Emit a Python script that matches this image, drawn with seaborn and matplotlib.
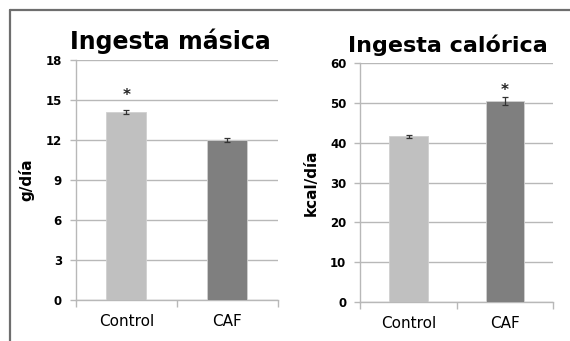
import matplotlib
matplotlib.use("Agg")
import matplotlib.pyplot as plt
from matplotlib.lines import Line2D
import seaborn as sns
import pandas as pd

groups = ["Control", "CAF"]
mass_intake = [14.1, 12.0]
mass_err = [0.12, 0.18]
cal_intake = [41.6, 50.5]
cal_err = [0.3, 1.0]
mass_sig = [True, False]
cal_sig = [False, True]
bar_colors = ["#c0c0c0", "#7f7f7f"]

sns.set_theme(style="white")
plt.rcParams["font.family"] = ["DejaVu Sans"]
plt.rcParams["text.color"] = "black"
plt.rcParams["axes.labelcolor"] = "black"
plt.rcParams["xtick.color"] = "black"
plt.rcParams["ytick.color"] = "black"

fig = plt.figure(figsize=(5.7, 3.41), dpi=100)
ax1 = fig.add_axes([0.133, 0.120, 0.354, 0.704])
ax2 = fig.add_axes([0.632, 0.114, 0.339, 0.701])

grid_c = "#b8b8b8"


def panel(ax, values, errs, sig, title, ylabel, ymax, step, star_off,
          title_size, title_x):
    df = pd.DataFrame({"grupo": groups, "valor": values})
    sns.barplot(data=df, x="grupo", y="valor", hue="grupo", palette=bar_colors,
                order=groups, errorbar=None, width=0.4, legend=False,
                edgecolor="#d0d0d0", linewidth=0.6, ax=ax, zorder=3)
    ax.errorbar(range(len(groups)), values, yerr=errs, fmt="none",
                ecolor="#333333", elinewidth=0.9, capsize=2.2, capthick=0.9,
                zorder=4)
    for i, s in enumerate(sig):
        if s:
            ax.text(i, values[i] + errs[i] + star_off, "*", ha="center",
                    va="center", fontsize=11, fontweight="bold", color="#222222")
    ax.set_ylim(0, ymax)
    ax.set_xlim(-0.5, 1.5)
    ax.set_yticks(range(0, ymax + 1, step))
    ax.yaxis.grid(True, color=grid_c, linewidth=1.0, zorder=0)
    ax.set_axisbelow(True)
    for sp in ["top", "right"]:
        ax.spines[sp].set_visible(False)
    for sp in ["left", "bottom"]:
        ax.spines[sp].set_color(grid_c)
        ax.spines[sp].set_linewidth(1.0)
    ax.tick_params(axis="y", length=4, width=1.0, color=grid_c, labelsize=8.5,
                   pad=6, left=True, labelcolor="black")
    ax.tick_params(axis="x", length=0, labelsize=11, pad=10, labelcolor="black")
    for lbl in ax.get_yticklabels():
        lbl.set_fontweight("bold")
    # category boundary ticks along the bottom axis
    ax.set_xticks([-0.5, 0.5, 1.5], minor=True)
    ax.tick_params(axis="x", which="minor", length=5, width=1.0, color=grid_c,
                   bottom=True)
    ax.set_xlabel("")
    ax.set_ylabel(ylabel, fontsize=11, fontweight="bold", labelpad=8,
                  color="black")
    ax.set_title(title, fontsize=title_size, fontweight="bold", pad=8,
                 color="black", x=title_x)


panel(ax1, mass_intake, mass_err, mass_sig, "Ingesta másica", "g/día", 18, 3,
      1.15, 17, 0.47)
panel(ax2, cal_intake, cal_err, cal_sig, "Ingesta calórica", "kcal/día", 60, 10,
      1.6, 16, 0.455)

# outer frame (left and top edges)
W, H = 570, 341
fig.add_artist(Line2D([10 / W, 10 / W], [0, 1 - 10 / H], transform=fig.transFigure,
                      color="#6e6e6e", linewidth=1.6))
fig.add_artist(Line2D([10 / W, 1], [1 - 10 / H, 1 - 10 / H], transform=fig.transFigure,
                      color="#6e6e6e", linewidth=1.6))

fig.savefig("out.png", dpi=100)
